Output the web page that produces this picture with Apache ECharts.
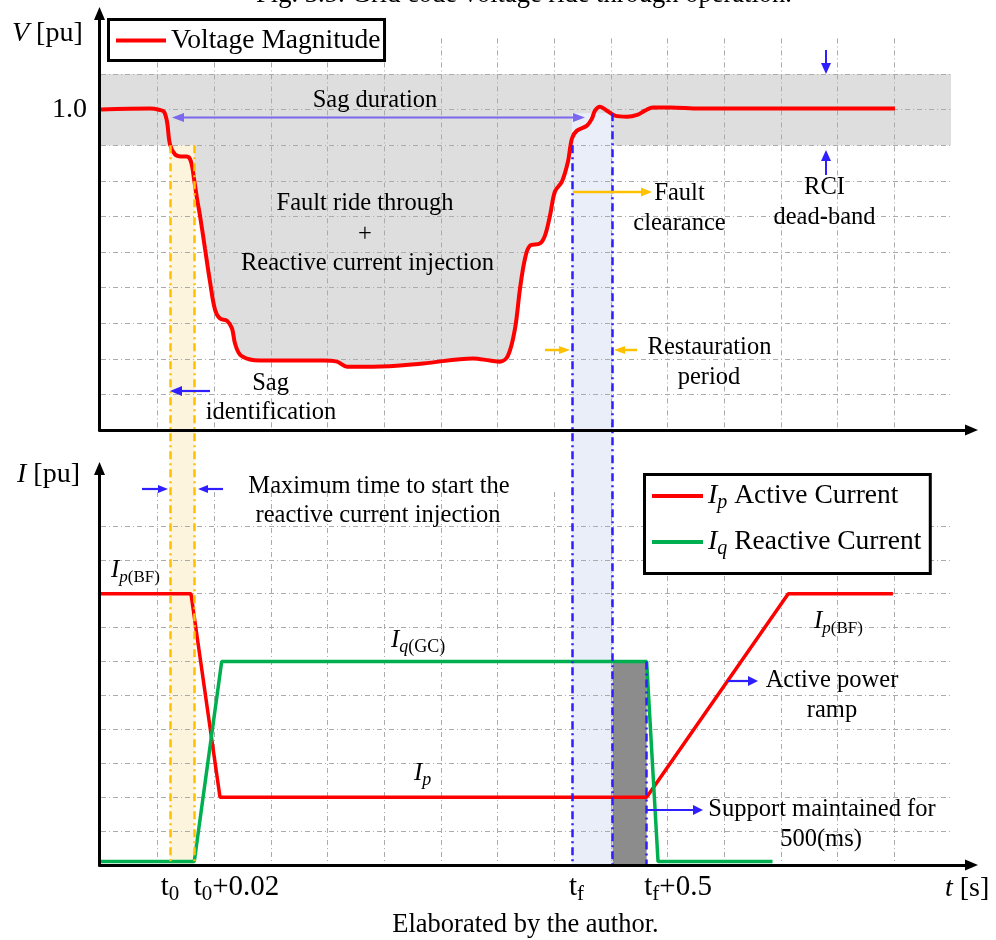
<!DOCTYPE html>
<html><head><meta charset="utf-8">
<script src="https://cdn.jsdelivr.net/npm/echarts@6/dist/echarts.min.js"></script>
<style>html,body{margin:0;padding:0;background:#fff}#c{width:996px;height:940px}</style>
</head><body><div id="c"></div>
<script>
// ---------------- data ----------------
// voltage magnitude (pu) against time (grid units)
const vTime = [0,0.865,1.041,1.112,1.165,1.218,1.306,1.412,1.518,1.588,1.641,1.694,1.747,1.835,1.923,2.012,2.100,2.223,2.312,2.365,2.453,2.629,2.806,3.917,4.164,4.341,4.800,5.682,6.564,6.864,7.041,7.182,7.306,7.394,7.482,7.570,7.747,7.835,7.923,8.011,8.135,8.241,8.311,8.399,8.576,8.664,8.717,8.805,8.929,9.070,9.282,9.476,9.599,9.741,10.041,10.570,14.011];
const vMag = [1.000,1.003,0.999,0.994,0.966,0.902,0.874,0.868,0.868,0.854,0.806,0.750,0.702,0.610,0.517,0.438,0.413,0.407,0.385,0.343,0.312,0.298,0.295,0.295,0.292,0.278,0.278,0.287,0.301,0.295,0.292,0.309,0.385,0.497,0.581,0.618,0.624,0.646,0.702,0.770,0.798,0.854,0.919,0.941,0.955,0.975,0.997,1.008,0.997,0.983,0.980,0.986,0.997,1.006,1.006,1.003,1.003];
// active current Ip
const ipTime = [0, 1.588, 2.100, 9.629, 12.128, 13.975];
const ipVal  = [0.8, 0.8, 0.2, 0.2, 0.8, 0.8];
// reactive current Iq
const iqTime = [0, 1.646, 2.130, 9.629, 9.830, 11.850];
const iqVal  = [0.01, 0.01, 0.6, 0.6, 0.01, 0.01];
// events: t0, t0+0.02, tf, tf+0.5 and end of restoration period
const eventTimes = [1.218, 1.650, 8.311, 9.629];
const eventLabels = [['t','0',''], ['t','0','+0.02'], ['t','f',''], ['t','f','+0.5']];
const restorationEnd = 9.03;
const deadBand = [0.9, 1.1];
const iqSupport = 0.6;
const yTickLabelValue = 1.0;

// ---------------- layout / style ----------------
const FONT = '"Liberation Serif","Times New Roman",serif';
const L = {left:101, width:850, topTop:38.4, topH:391.6, botTop:492, botH:373,
  axisTopY:430, axisBotY:865, axisX:99.5, xTip:978, yTipTop:7, yTipBot:462};
const vMin = 0.1, vMax = 1.2;
const ovH = L.axisBotY - L.topTop;
const ovMin = vMax - (vMax - vMin) * ovH / L.topH;
const GRID_C = '#ababab', DASH = [5,3,1,3];
const T = 'rgba(0,0,0,0)';
const xSplit = [T].concat(Array(14).fill(GRID_C), [T]);
const ySplit = [T].concat(Array(10).fill(GRID_C), [T]);
const RED = '#ff0000', GREEN = '#00b050', BLUE = '#2f1fff', ORANGE = '#ffc000', PURPLE = '#7b68ee';
const tickPad = [0, 84, 9, 63];

const pairs = (xs, ys) => xs.map((x, i) => [x, ys[i]]);
const vData = pairs(vTime, vMag);

function dataGridX(grid, extra) {
  return Object.assign({type:'value', gridIndex:grid, min:0, max:15, interval:1, z:3, position:'bottom',
    axisLine:{show:false}, axisTick:{show:false}, axisLabel:{show:false},
    splitLine:{show:true, lineStyle:{color:xSplit, width:1, type:DASH}}}, extra || {});
}
function decoAxis(grid) {
  return {type:'value', gridIndex:grid, min:0, max:1, z:8,
    axisLine:{show:true, symbol:['none','triangle'], symbolSize:[11,13], lineStyle:{color:'#000', width:3}},
    axisTick:{show:false}, axisLabel:{show:false}, splitLine:{show:false}};
}

const tickRich = {
  s:{fontFamily:FONT, fontSize:21, color:'#000', padding:[15,0,0,0], lineHeight:30},
  m:{fontFamily:FONT, fontSize:29, color:'#000', lineHeight:30}
};
tickPad.forEach((p, i) => { tickRich['p' + i] = {fontFamily:FONT, fontSize:29, color:'#000', padding:[0,0,0,p], lineHeight:30}; });
function tickFormatter(v) {
  let i = 0, best = 1e9;
  eventTimes.forEach((t, k) => { if (Math.abs(t - v) < best) { best = Math.abs(t - v); i = k; } });
  const p = eventLabels[i];
  return '{p' + i + '|' + p[0] + '}{s|' + p[1] + '}' + (p[2] ? '{m|' + p[2] + '}' : '');
}
// labels split over two axes so that neighbouring labels never collide
function labelAxis(values) {
  return {type:'value', gridIndex:1, min:0, max:15, position:'bottom', offset:0, z:3,
    axisLine:{show:false}, axisTick:{show:false}, splitLine:{show:false},
    axisLabel:{show:true, customValues:values, margin:7, color:'#000', hideOverlap:false,
      showMinLabel:true, showMaxLabel:true, formatter:tickFormatter, rich:tickRich}};
}

// ---------------- graphics (annotations) ----------------
function txt(text, x, y, size, extra) {
  return {type:'text', z:100, silent:true, style:Object.assign({text:text, x:x, y:y, fill:'#000',
    fontFamily:FONT, fontSize:size, textAlign:'center', textVerticalAlign:'middle', align:'center', verticalAlign:'middle'}, extra || {})};
}
function richCur(main, sub, pad) {
  return {
    i:{fontFamily:FONT, fontStyle:'italic', fontSize:main, fill:'#000', color:'#000', lineHeight:34},
    s:{fontFamily:FONT, fontStyle:'italic', fontSize:sub, fill:'#000', color:'#000', padding:[pad,0,0,0], lineHeight:34},
    n:{fontFamily:FONT, fontSize:sub, fill:'#000', color:'#000', padding:[pad,0,0,0], lineHeight:34},
    m:{fontFamily:FONT, fontSize:main, fill:'#000', color:'#000', lineHeight:34}
  };
}
function leftRich(text, x, y, rich) {
  return txt(text, x, y, 24, {textAlign:'left', align:'left', rich:rich});
}
function arrow(x1, y1, x2, y2, color, both, lw, hl, hw) {
  lw = lw || 2.2; hl = hl || 11; hw = hw || 9;
  const dx = x2 - x1, dy = y2 - y1, len = Math.hypot(dx, dy), ux = dx / len, uy = dy / len, px = -uy, py = ux;
  const head = (tx, ty, dirx, diry) => ({type:'polygon', z:100, silent:true,
    shape:{points:[[tx, ty], [tx - dirx*hl + px*hw/2, ty - diry*hl + py*hw/2], [tx - dirx*hl - px*hw/2, ty - diry*hl - py*hw/2]]},
    style:{fill:color}});
  const sx = both ? x1 + ux*hl*0.8 : x1, sy = both ? y1 + uy*hl*0.8 : y1;
  const els = [{type:'line', z:100, silent:true, shape:{x1:sx, y1:sy, x2:x2 - ux*hl*0.8, y2:y2 - uy*hl*0.8}, style:{stroke:color, lineWidth:lw}},
    head(x2, y2, ux, uy)];
  if (both) els.push(head(x1, y1, -ux, -uy));
  return els;
}

const graphics = [
  txt('Fig. 3.5: Grid code voltage ride through operation.', 524, -5, 26.5),
  leftRich('{i|V}{m| [pu]}', 12, 34, richCur(28, 28, 0)),
  leftRich('{i|I}{m| [pu]}', 17, 475, richCur(28, 28, 0)),
  leftRich('{i|t}{m| [s]}', 945, 889, richCur(28, 28, 0)),
  txt('Sag duration', 375, 100.5, 24.5),
  txt('Fault ride through', 365, 204, 24.5),
  txt('+', 365, 235, 24.5),
  txt('Reactive current injection', 367.5, 264, 24.5),
  txt('Fault', 679.5, 194, 24.5),
  txt('clearance', 679.5, 224, 24.5),
  txt('RCI', 824.5, 188, 24.5),
  txt('dead-band', 824.5, 218, 24.5),
  txt('Restauration', 709.5, 347.5, 24.5),
  txt('period', 709, 377.5, 24.5),
  txt('Sag', 270.5, 384, 24.5),
  txt('identification', 271, 413, 24.5),
  txt('Maximum time to start the', 379, 486.5, 24.5),
  txt('reactive current injection', 378, 516, 24.5),
  txt('Active power', 832, 681, 24.5),
  txt('ramp', 832, 711, 24.5),
  txt('Support maintained for', 822, 809.5, 24.5),
  txt('500(ms)', 821, 839.5, 24.5),
  txt('Elaborated by the author.', 525.5, 925.5, 26.5),
  leftRich('{i|I}{s|p}{n|(BF)}', 111, 570, richCur(25, 17, 16)),
  leftRich('{i|I}{s|q}{n|(GC)}', 391, 640, richCur(25, 18, 14)),
  leftRich('{i|I}{s|p}', 414, 773.5, richCur(25, 18, 14)),
  leftRich('{i|I}{s|p}{n|(BF)}', 814, 621, richCur(25, 17, 16))
].concat(
  arrow(172, 117.5, 585, 117.5, PURPLE, true, 2, 12, 9),
  arrow(573, 192, 652, 192, ORANGE, false, 2.5, 11, 9),
  arrow(826, 50, 826, 74, BLUE, false, 2, 11, 10),
  arrow(826, 175, 826, 150, BLUE, false, 2, 11, 10),
  arrow(545, 350, 570, 350, ORANGE, false, 2.5, 11, 8),
  arrow(637, 350, 614, 350, ORANGE, false, 2.5, 11, 8),
  arrow(210, 391, 170, 391, BLUE, false, 2.2, 12, 10),
  arrow(142, 489, 168, 489, BLUE, false, 2.2, 10, 8),
  arrow(223, 489, 198, 489, BLUE, false, 2.2, 10, 8),
  arrow(728, 681, 758, 681, BLUE, false, 2.2, 10, 10),
  arrow(646, 810, 703, 810, BLUE, false, 2.2, 10, 10)
);

// ---------------- option ----------------
const legendText = {fontFamily:FONT, fontSize:27.5, color:'#000', lineHeight:32};
const option = {
  animation:false,
  backgroundColor:'#fff',
  grid:[
    {left:L.left, top:L.topTop, width:L.width, height:L.topH, outerBoundsMode:'none'},
    {left:L.left, top:L.botTop, width:L.width, height:L.botH, outerBoundsMode:'none'},
    {left:L.left, top:L.topTop, width:L.width, height:ovH, outerBoundsMode:'none'},
    {left:L.axisX, top:L.yTipTop + 6.5, width:L.xTip - 6.5 - L.axisX, height:L.axisTopY - L.yTipTop - 6.5, outerBoundsMode:'none'},
    {left:L.axisX, top:L.yTipBot + 6.5, width:L.xTip - 6.5 - L.axisX, height:L.axisBotY - L.yTipBot - 6.5, outerBoundsMode:'none'}
  ],
  xAxis:[
    dataGridX(0),
    dataGridX(1),
    {type:'value', gridIndex:2, min:0, max:15, show:false},
    decoAxis(3), decoAxis(4),
    labelAxis([eventTimes[0], eventTimes[2]]),
    labelAxis([eventTimes[1], eventTimes[3]])
  ],
  yAxis:[
    {type:'value', gridIndex:0, min:vMin, max:vMax, interval:0.1, z:3,
      axisLine:{show:false}, axisTick:{show:false},
      axisLabel:{show:true, margin:14, fontFamily:FONT, fontSize:28, color:'#000',
        formatter:function (v) { return Math.abs(v - yTickLabelValue) < 1e-6 ? yTickLabelValue.toFixed(1) : ''; }},
      splitLine:{show:true, lineStyle:{color:ySplit, width:1, type:DASH}}},
    {type:'value', gridIndex:1, min:0, max:1.1, interval:0.1, z:3,
      axisLine:{show:false}, axisTick:{show:false}, axisLabel:{show:false},
      splitLine:{show:true, lineStyle:{color:ySplit, width:1, type:DASH}}},
    {type:'value', gridIndex:2, min:ovMin, max:vMax, show:false},
    decoAxis(3), decoAxis(4)
  ],
  legend:[
    {data:['Voltage Magnitude'], left:108.5, top:19.5, orient:'horizontal', icon:'rect', itemWidth:50, itemHeight:4,
      padding:[5,4,4,7.5], borderColor:'#000', borderWidth:3, backgroundColor:'#fff', selectedMode:false, z:20,
      textStyle:legendText},
    {data:['Ip Active Current','Iq Reactive Current'], left:644.5, top:474.5, orient:'vertical', icon:'rect',
      itemWidth:51, itemHeight:4, itemGap:12, padding:[4.5,9,14.5,7.5], borderColor:'#000', borderWidth:3,
      backgroundColor:'#fff', selectedMode:false, z:20,
      formatter:function (name) { return name.charAt(1) === 'p' ? '{i|I}{s|p}{n| Active Current}' : '{i|I}{s|q}{n| Reactive Current}'; },
      textStyle:Object.assign({}, legendText, {rich:{
        i:{fontFamily:FONT, fontStyle:'italic', fontSize:28, color:'#000', lineHeight:32},
        s:{fontFamily:FONT, fontStyle:'italic', fontSize:20, color:'#000', padding:[14,0,0,0], lineHeight:32},
        n:{fontFamily:FONT, fontSize:27.5, color:'#000', lineHeight:32}}})}
  ],
  series:[
    {name:'sagFill', type:'line', xAxisIndex:0, yAxisIndex:0, data:vData, smooth:0.35, symbol:'none', z:1,
      lineStyle:{width:0}, areaStyle:{color:'#dedede', opacity:1, origin:deadBand[0]}, silent:true,
      markArea:{silent:true, z:1, itemStyle:{color:'#dedede'}, label:{show:false},
        data:[[{yAxis:deadBand[0]}, {yAxis:deadBand[1]}]]}},
    {name:'yellowBand', type:'line', xAxisIndex:2, yAxisIndex:2, data:[], z:2, silent:true,
      markArea:{silent:true, z:2, itemStyle:{color:'#fdf4de'}, label:{show:false},
        data:[[{xAxis:eventTimes[0], yAxis:deadBand[0]}, {xAxis:eventTimes[1], yAxis:ovMin + 0.001}]]}},
    {name:'blueBand', type:'line', xAxisIndex:2, yAxisIndex:2, data:[], z:2, silent:true,
      markArea:{silent:true, z:2, itemStyle:{color:'#e9eef8'}, label:{show:false},
        data:[[{xAxis:eventTimes[2], yAxis:0.99}, {xAxis:restorationEnd, yAxis:ovMin + 0.001}]]}},
    {name:'supportArea', type:'line', xAxisIndex:1, yAxisIndex:1, data:[], z:4, silent:true,
      markArea:{silent:true, z:4, itemStyle:{color:'#8c8c8c'}, label:{show:false},
        data:[[{xAxis:restorationEnd, yAxis:0}, {xAxis:eventTimes[3], yAxis:iqSupport}]]},
      markLine:{silent:true, z:6, symbol:'none', label:{show:false}, lineStyle:{color:BLUE, width:2.5, type:[8,4,2,4]},
        data:[[{coord:[eventTimes[3], iqSupport]}, {coord:[eventTimes[3], 0]}]]}},
    {name:'yellowLines', type:'line', xAxisIndex:2, yAxisIndex:2, data:[], z:6, silent:true,
      markLine:{silent:true, z:6, symbol:'none', label:{show:false}, lineStyle:{color:ORANGE, width:2.5, type:[8,4,2,4]},
        data:[[{coord:[eventTimes[0], deadBand[0]]}, {coord:[eventTimes[0], ovMin + 0.001]}],
              [{coord:[eventTimes[1], deadBand[0]]}, {coord:[eventTimes[1], ovMin + 0.001]}]]}},
    {name:'blueLines', type:'line', xAxisIndex:2, yAxisIndex:2, data:[], z:6, silent:true,
      markLine:{silent:true, z:6, symbol:'none', label:{show:false}, lineStyle:{color:BLUE, width:2.5, type:[8,4,2,4]},
        data:[[{coord:[eventTimes[2], deadBand[0]]}, {coord:[eventTimes[2], ovMin + 0.001]}],
              [{coord:[restorationEnd, 0.99]}, {coord:[restorationEnd, ovMin + 0.001]}]]}},
    {name:'Voltage Magnitude', type:'line', xAxisIndex:0, yAxisIndex:0, data:vData, smooth:0.35, symbol:'none', z:5,
      color:RED, lineStyle:{color:RED, width:4}},
    {name:'Ip Active Current', type:'line', xAxisIndex:1, yAxisIndex:1, data:pairs(ipTime, ipVal), symbol:'none', z:5,
      color:RED, lineStyle:{color:RED, width:3.5}},
    {name:'Iq Reactive Current', type:'line', xAxisIndex:1, yAxisIndex:1, data:pairs(iqTime, iqVal), symbol:'none', z:5,
      color:GREEN, lineStyle:{color:GREEN, width:3.5}}
  ],
  graphic:graphics
};
const chart = echarts.init(document.getElementById('c'));
chart.setOption(option);
</script></body></html>
